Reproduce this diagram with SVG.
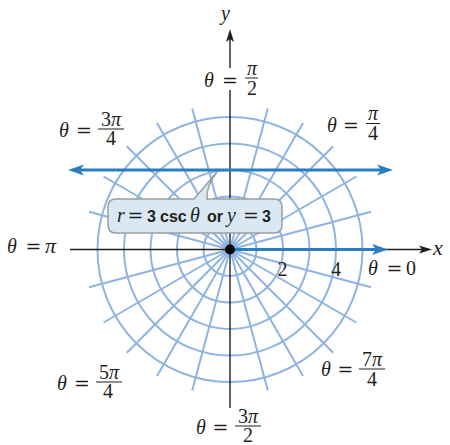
<svg xmlns="http://www.w3.org/2000/svg" width="450" height="445" viewBox="0 0 450 445">
<style>
.grid{fill:none;stroke:#8fb4e2;stroke-width:2}
.ax{stroke:#231f20;stroke-width:1.4;fill:none}
.blue{stroke:#2b7dc2;stroke-width:3;fill:none}
.t{font-family:"Liberation Serif","Times New Roman",serif;font-size:20px;fill:#231f20}
.i{font-style:italic}
.eq{font-family:"DejaVu Serif",serif;font-size:19px;fill:#231f20}
.bar{stroke:#231f20;stroke-width:1}
.b{font-family:"Liberation Sans",Arial,sans-serif;font-weight:bold;font-size:16px;fill:#231f20}
</style>
<defs>
<marker id="ab" viewBox="-8 -7 20 14" markerWidth="20" markerHeight="14" refX="0" refY="0" markerUnits="userSpaceOnUse" orient="auto-start-reverse" overflow="visible">
<path d="M10,0 L-6,-5.5 L-2,0 L-6,5.5 Z" fill="#2b7dc2"/>
</marker>
<marker id="ak" viewBox="-6 -5 16 10" markerWidth="16" markerHeight="10" refX="0" refY="0" markerUnits="userSpaceOnUse" orient="auto" overflow="visible">
<path d="M8,0 L-5,-4 L-2,0 L-5,4 Z" fill="#231f20"/>
</marker>
</defs>
<g id="grid">
<circle class="grid" cx="230" cy="249.5" r="26.5"/>
<circle class="grid" cx="230" cy="249.5" r="53"/>
<circle class="grid" cx="230" cy="249.5" r="79.5"/>
<circle class="grid" cx="230" cy="249.5" r="106"/>
<circle class="grid" cx="230" cy="249.5" r="132.5"/>
<path class="grid" d="M230,249.5 L371.0,211.7 M230,249.5 L356.4,176.5 M230,249.5 L333.2,146.3 M230,249.5 L303.0,123.1 M230,249.5 L267.8,108.5 M230,249.5 L192.2,108.5 M230,249.5 L157.0,123.1 M230,249.5 L126.8,146.3 M230,249.5 L103.6,176.5 M230,249.5 L89.0,211.7 M230,249.5 L89.0,287.3 M230,249.5 L103.6,322.5 M230,249.5 L126.8,352.7 M230,249.5 L157.0,375.9 M230,249.5 L192.2,390.5 M230,249.5 L267.8,390.5 M230,249.5 L303.0,375.9 M230,249.5 L333.2,352.7 M230,249.5 L356.4,322.5 M230,249.5 L371.0,287.3"/>
</g>
<g id="connectors">
<line class="ax" x1="70" y1="249.5" x2="424" y2="249.5" marker-end="url(#ak)"/>
<line class="ax" x1="230" y1="408" x2="230" y2="90"/>
<line class="ax" x1="230" y1="68" x2="230" y2="37" marker-end="url(#ak)"/>
<line class="blue" x1="78" y1="170" x2="383" y2="170" marker-start="url(#ab)" marker-end="url(#ab)"/>
<line class="blue" x1="230" y1="249.5" x2="378" y2="249.5" marker-end="url(#ab)"/>
</g>
<g id="origin"><circle cx="230" cy="249.5" r="5" fill="#000"/></g>
<g id="axis-labels">
<text class="t i" x="221" y="20">y</text>
<text class="t i" x="433" y="255" style="font-size:22px">x</text>
<text class="t" x="282.5" y="276" text-anchor="middle">2</text>
<text class="t" x="336" y="276" text-anchor="middle">4</text>
</g>
<g id="label-pi2">
<text class="t i" x="204" y="87">θ</text>
<text class="eq" x="230" y="87" text-anchor="middle">=</text>
<text class="t i" x="252" y="75" text-anchor="middle">π</text>
<line class="bar" x1="245" y1="78" x2="258" y2="78"/>
<text class="t" x="252" y="95" text-anchor="middle">2</text>
</g>
<g id="label-3pi4">
<text class="t i" x="59" y="137">θ</text>
<text class="eq" x="84" y="137" text-anchor="middle">=</text>
<text class="t" x="111" y="126" text-anchor="middle">3<tspan class="i">π</tspan></text>
<line class="bar" x1="98" y1="129" x2="124" y2="129"/>
<text class="t" x="111" y="145" text-anchor="middle">4</text>
</g>
<g id="label-pi4">
<text class="t i" x="327" y="132">θ</text>
<text class="eq" x="351" y="132" text-anchor="middle">=</text>
<text class="t i" x="373" y="120" text-anchor="middle">π</text>
<line class="bar" x1="366" y1="123.5" x2="380" y2="123.5"/>
<text class="t" x="373" y="140" text-anchor="middle">4</text>
</g>
<g id="label-pi">
<text class="t i" x="7" y="253">θ</text>
<text class="eq" x="33.5" y="253" text-anchor="middle">=</text>
<text class="t i" x="45" y="253" style="font-size:22px">π</text>
</g>
<g id="label-0">
<text class="t i" x="368" y="275">θ</text>
<text class="eq" x="394.5" y="275" text-anchor="middle">=</text>
<text class="t" x="406" y="275">0</text>
</g>
<g id="label-5pi4">
<text class="t i" x="57" y="390">θ</text>
<text class="eq" x="82" y="390" text-anchor="middle">=</text>
<text class="t" x="109" y="379" text-anchor="middle">5<tspan class="i">π</tspan></text>
<line class="bar" x1="96" y1="382" x2="122" y2="382"/>
<text class="t" x="108" y="398" text-anchor="middle">4</text>
</g>
<g id="label-7pi4">
<text class="t i" x="321" y="376">θ</text>
<text class="eq" x="345.5" y="376" text-anchor="middle">=</text>
<text class="t" x="372" y="366" text-anchor="middle">7<tspan class="i">π</tspan></text>
<line class="bar" x1="359" y1="369" x2="385" y2="369"/>
<text class="t" x="372" y="386" text-anchor="middle">4</text>
</g>
<g id="label-3pi2">
<text class="t i" x="196" y="434">θ</text>
<text class="eq" x="220.5" y="434" text-anchor="middle">=</text>
<text class="t" x="248" y="423" text-anchor="middle">3<tspan class="i">π</tspan></text>
<line class="bar" x1="235" y1="426" x2="261" y2="426"/>
<text class="t" x="248" y="442" text-anchor="middle">2</text>
</g>
<g id="callout">
<path d="M116,199 H194 L217,172 Q206,186 207,199 H274 Q282,199 282,207 V225 Q282,233 274,233 H116 Q108,233 108,225 V207 Q108,199 116,199 Z" fill="#d9e8f3" stroke="#9a9fa3" stroke-width="1.5"/>
<text class="t i" x="117" y="222">r</text>
<text class="eq" x="135.5" y="222" text-anchor="middle">=</text>
<text class="b" x="147" y="222">3</text>
<text class="b" x="160" y="222">csc</text>
<text class="t i" x="190" y="222">θ</text>
<text class="b" x="207" y="222">or</text>
<text class="t i" x="227" y="222">y</text>
<text class="eq" x="251" y="222" text-anchor="middle">=</text>
<text class="b" x="262" y="222">3</text>
</g>
</svg>
